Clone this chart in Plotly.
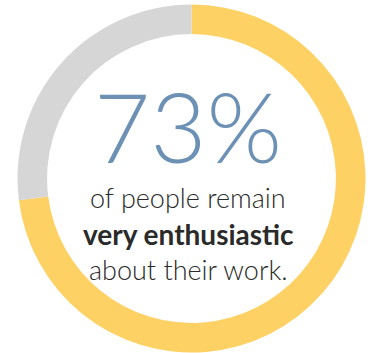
import plotly.graph_objects as go

labels = ["Very enthusiastic", "Other"]
values = [73, 27]
colors = ["#FDD163", "#D6D6D6"]
big_text = "73%"
lines = ["of people remain", "<b>very enthusiastic</b>", "about their work."]

W, H = 374, 353
cx, cy, r = 191.5, 178.5, 174.0

fig = go.Figure(go.Pie(
    labels=labels, values=values, sort=False, direction="clockwise", rotation=0,
    hole=0.83, marker=dict(colors=colors, line=dict(width=0)),
    textinfo="none", hoverinfo="none", showlegend=False,
    domain=dict(x=[(cx - r) / W, (cx + r) / W], y=[(H - cy - r) / H, (H - cy + r) / H]),
))

fig.add_annotation(text=big_text, x=188 / W, y=1 - 126 / H, xref="paper", yref="paper",
                   xanchor="center", yanchor="middle",
                   showarrow=False, font=dict(family="Lato", size=97, color="#6C91B4", weight=300))
ys = [197, 234, 269]
sizes = [27, 28, 27]
for t, yy, s in zip(lines, ys, sizes):
    fig.add_annotation(text=t, x=188 / W, y=1 - yy / H, xref="paper", yref="paper",
                       xanchor="center", yanchor="middle",
                       showarrow=False, font=dict(family="Lato", size=s, color="#2A2A2A", weight=300))

fig.update_layout(width=W, height=H, margin=dict(l=0, r=0, t=0, b=0),
                  paper_bgcolor="white", plot_bgcolor="white")
fig.write_html("out.html")
